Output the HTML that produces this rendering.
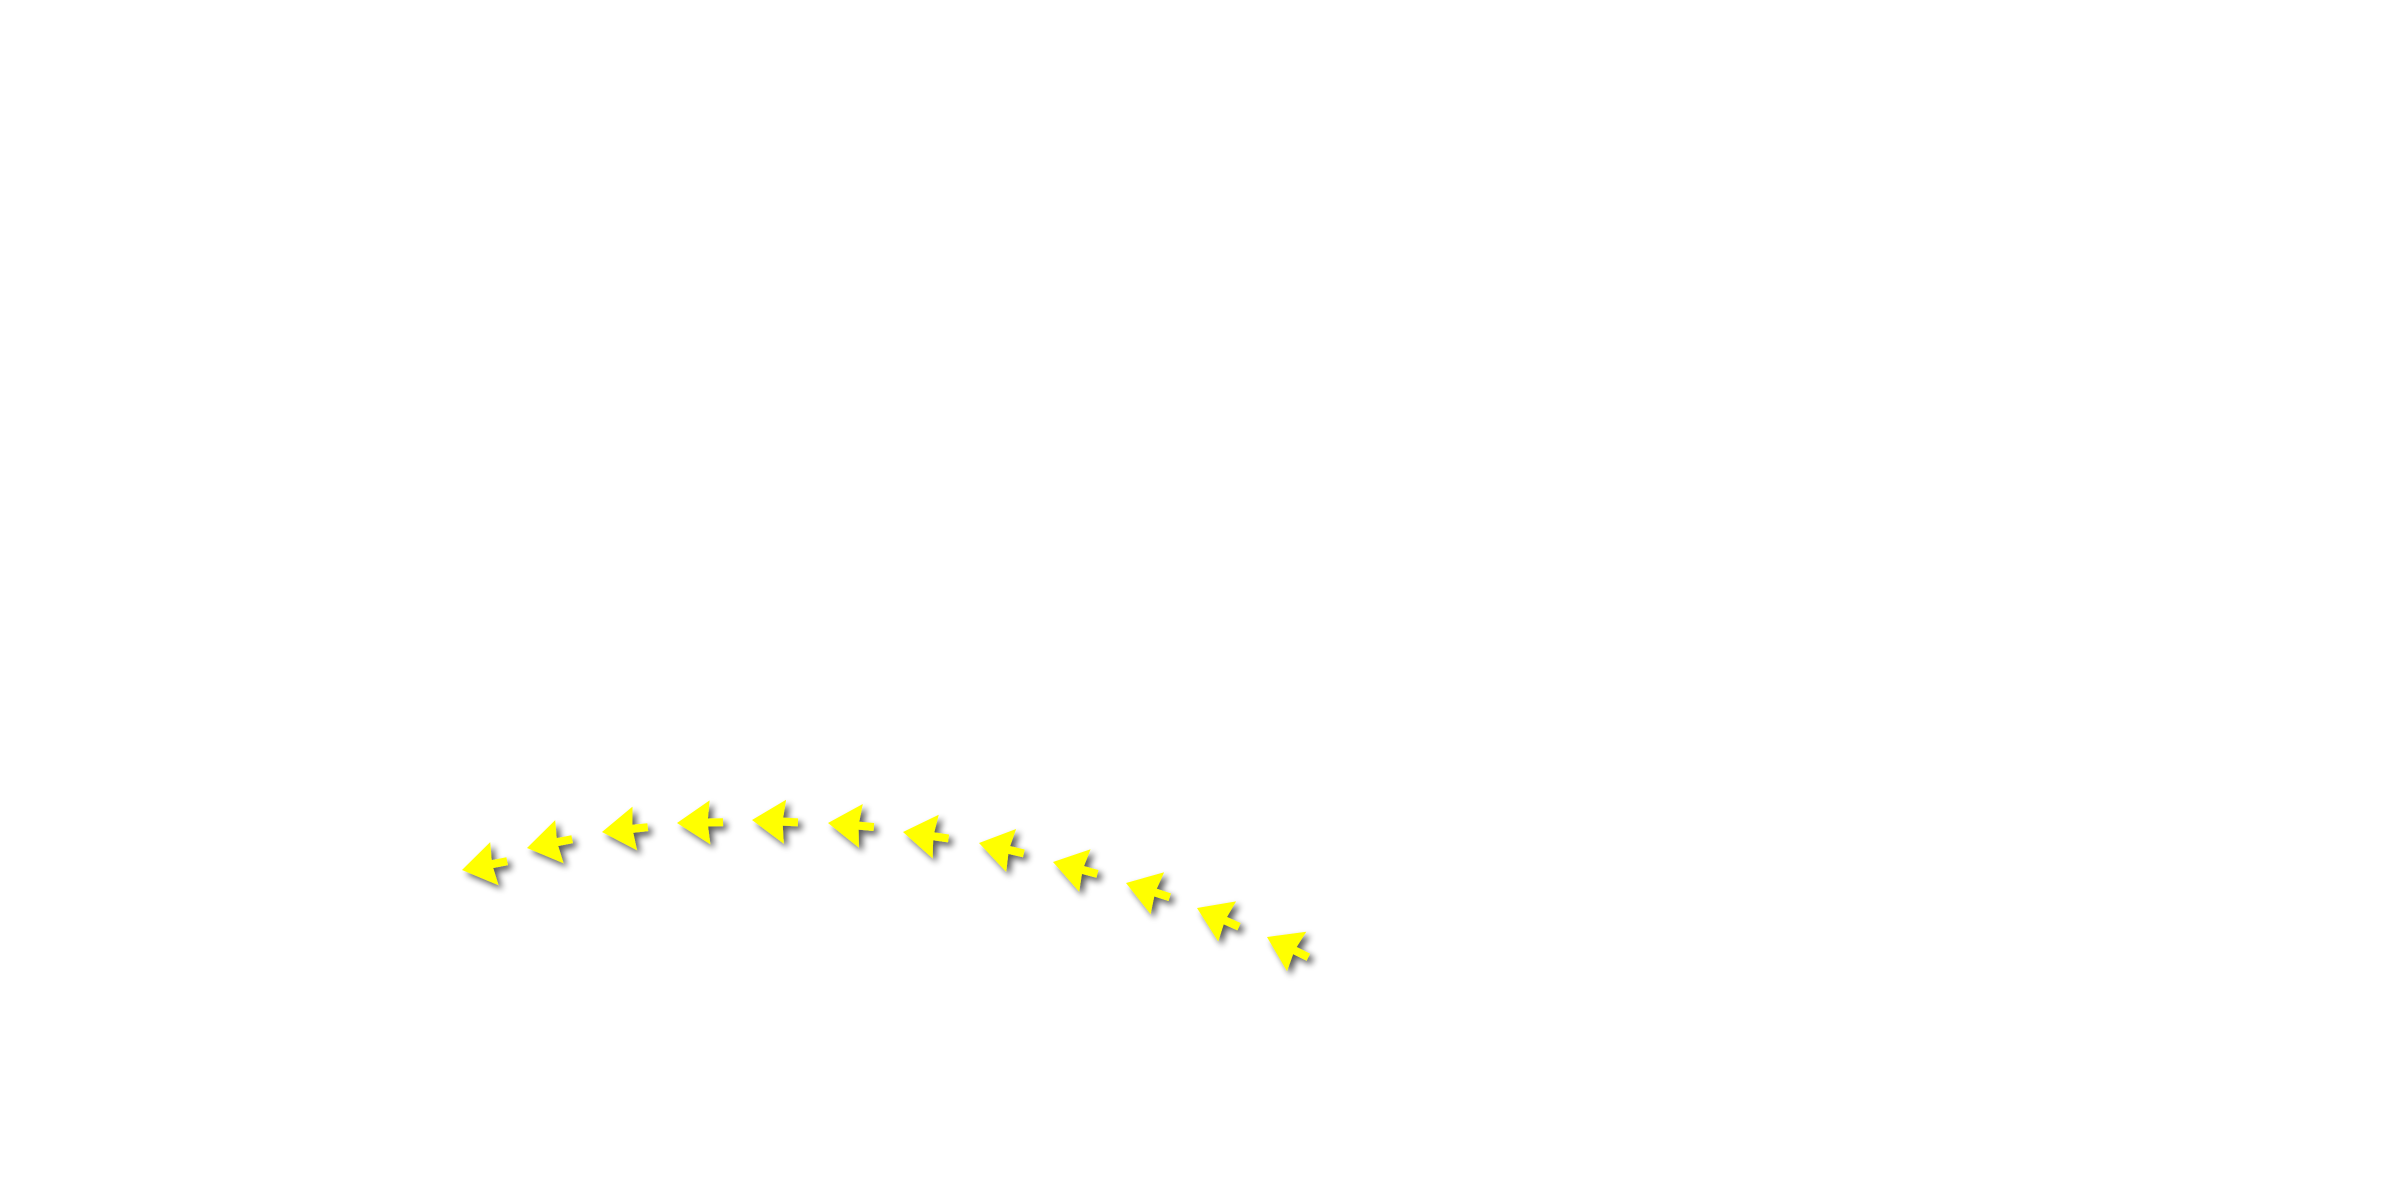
<!DOCTYPE html>
<html><head><meta charset="utf-8"><style>html,body{margin:0;padding:0;background:#fff;width:2400px;height:1200px;overflow:hidden}</style></head>
<body>
<svg width="2400" height="1200" xmlns="http://www.w3.org/2000/svg">
<defs>
<filter id="s" x="-50%" y="-50%" width="200%" height="200%">
<feGaussianBlur in="SourceAlpha" stdDeviation="3.5"/>
<feOffset dx="4" dy="4" result="b"/>
<feComponentTransfer><feFuncA type="linear" slope="0.65"/></feComponentTransfer>
<feMerge><feMergeNode/><feMergeNode in="SourceGraphic"/></feMerge>
</filter>
<polygon id="a" points="0,0 33,-22 31,-4 46,-4 46,4 31,4 33,22" fill="#ffff00"/>
</defs>
<g filter="url(#s)">
<use href="#a" transform="translate(462,870) rotate(-11)"/>
<use href="#a" transform="translate(527,848) rotate(-11)"/>
<use href="#a" transform="translate(602,832) rotate(-6)"/>
<use href="#a" transform="translate(677,823) rotate(-1)"/>
<use href="#a" transform="translate(752,820) rotate(3)"/>
<use href="#a" transform="translate(828,823) rotate(5)"/>
<use href="#a" transform="translate(903,832) rotate(8)"/>
<use href="#a" transform="translate(979,843) rotate(13)"/>
<use href="#a" transform="translate(1053,862) rotate(15)"/>
<use href="#a" transform="translate(1126,883) rotate(18)"/>
<use href="#a" transform="translate(1197,908) rotate(24)"/>
<use href="#a" transform="translate(1267,937) rotate(26)"/>
</g>
</svg>
</body></html>
